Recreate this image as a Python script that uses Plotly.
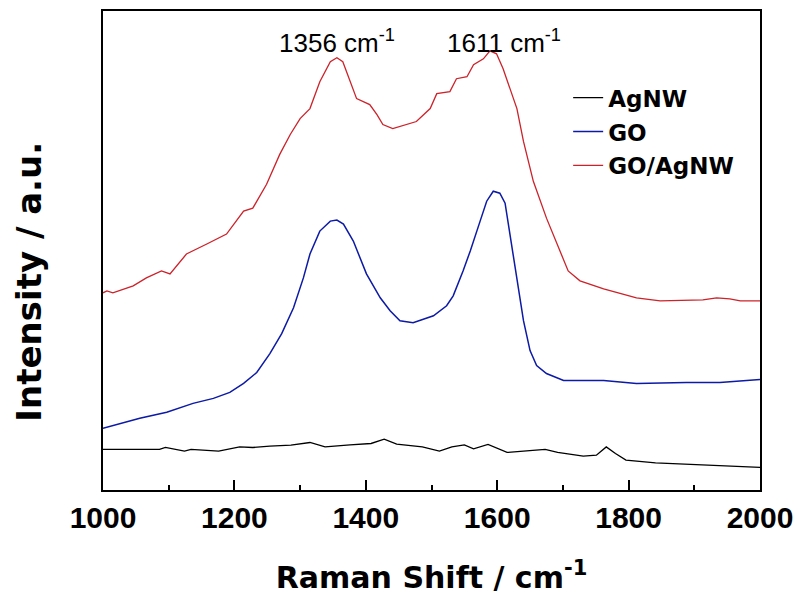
import plotly.graph_objects as go

# ---- data (intensity in arbitrary units) ----
x_agnw = [1000, 1086, 1095, 1124, 1134, 1176, 1208, 1228, 1254, 1286, 1315, 1338, 1376, 1408, 1428,
          1447, 1486, 1512, 1531, 1550, 1564, 1586, 1615, 1641, 1673, 1692, 1731, 1751, 1766, 1780,
          1796, 1841, 1906, 1983, 2000]
y_agnw = [40.7, 40.7, 42.7, 39, 40.7, 39, 43.3, 42.7, 44, 45, 47.7, 43.3, 45.3, 46.7, 51,
          46, 43.3, 39, 43.3, 45.3, 41.3, 45.7, 37.7, 39, 40.7, 37.7, 34, 35, 43.3, 36.7,
          30, 27.3, 25.7, 23.3, 22.7]

x_go = [1000, 1006, 1026, 1056, 1097, 1137, 1168, 1193, 1214, 1234, 1254, 1272, 1290, 1305, 1315,
        1330, 1346, 1356, 1366, 1381, 1401, 1422, 1437, 1452, 1472, 1493, 1503, 1523, 1533, 1548,
        1559, 1574, 1584, 1594, 1604, 1612, 1620, 1630, 1640, 1650, 1660, 1675, 1701, 1762, 1812,
        1888, 1939, 2000]
y_go = [62, 63, 67, 72, 78, 87, 92, 98, 107, 118, 137, 157, 183, 213, 237,
        260, 270, 271, 267, 250, 217, 193, 180, 170, 168, 173, 175, 185, 195, 220,
        240, 270, 290, 300, 298, 288, 253, 210, 170, 140, 125, 117, 110, 110, 107,
        108, 108, 111]

x_goag = [1000, 1006, 1015, 1046, 1066, 1089, 1102, 1127, 1158, 1188, 1214, 1228, 1249, 1269, 1285,
          1300, 1315, 1330, 1346, 1356, 1365, 1376, 1386, 1406, 1417, 1426, 1441, 1477, 1498, 1508,
          1528, 1538, 1554, 1564, 1579, 1589, 1599, 1609, 1620, 1630, 1640, 1655, 1675, 1696, 1708,
          1726, 1762, 1812, 1848, 1913, 1934, 1954, 1970, 2000]
y_goag = [198, 200, 198, 205, 213, 220, 217, 237, 247, 257, 280, 283, 307, 337, 357,
          373, 383, 410, 430, 434, 430, 410, 393, 387, 377, 367, 363, 370, 383, 398,
          400, 413, 415, 427, 433, 441, 438, 423, 402, 383, 350, 310, 273, 240, 220,
          210, 202, 193, 190, 191, 193, 192, 190, 190]

series_names = ["AgNW", "GO", "GO/AgNW"]
peak_positions = [1356, 1611]
peak_labels = ["1356 cm<sup>-1</sup>", "1611 cm<sup>-1</sup>"]
x_ticks = [1000, 1200, 1400, 1600, 1800, 2000]

colors = ["#000000", "#0c1aa6", "#cc2229"]
widths = [1.3, 1.5, 1.3]
data = [(x_agnw, y_agnw), (x_go, y_go), (x_goag, y_goag)]

fig = go.Figure()
for i, ((xs, ys), name) in enumerate(zip(data, series_names)):
    fig.add_trace(go.Scatter(x=xs, y=ys, mode="lines", name=name, legendgroup=name,
                             line=dict(color=colors[i], width=widths[i])))

for px, lab in zip(peak_positions, peak_labels):
    fig.add_annotation(x=px, y=450, xref="x", yref="y", text=lab, showarrow=False,
                       font=dict(family="Liberation Sans", size=26, color="black"))

fig.add_annotation(x=-0.113, y=0.4345, xref="paper", yref="paper", text="<b>Intensity / a.u.</b>",
                   textangle=-90, showarrow=False, xanchor="center", yanchor="middle",
                   font=dict(family="DejaVu Sans", size=34, color="black"))

fig.update_layout(
    width=786, height=587,
    margin=dict(l=95, r=34, t=1, b=105),
    paper_bgcolor="white", plot_bgcolor="white",
    showlegend=True,
    legend=dict(x=0.708, y=0.748, xanchor="left", yanchor="middle",
                font=dict(family="DejaVu Sans", size=23, color="black", weight="bold"),
                bgcolor="rgba(0,0,0,0)", tracegroupgap=1),
    xaxis=dict(range=[1000, 2000], tickvals=x_ticks, ticktext=[str(t) for t in x_ticks],
               ticks="inside", ticklen=10, tickwidth=2, tickcolor="black",
               minor=dict(dtick=100, ticks="inside", ticklen=5, tickwidth=2, tickcolor="black"),
               showline=True, linewidth=2, linecolor="black", mirror=True, showgrid=False,
               zeroline=False, ticklabelstandoff=0,
               tickfont=dict(family="Liberation Sans", size=30, color="black", weight="bold"),
               title=dict(text="<b>Raman Shift / cm<sup>-1</sup></b>", standoff=35,
                          font=dict(family="DejaVu Sans", size=30, color="black"))),
    yaxis=dict(range=[0, 481], showticklabels=False, ticks="", showline=True, linewidth=2,
               linecolor="black", mirror=True, showgrid=False, zeroline=False),
)

fig.write_html("out.html")
